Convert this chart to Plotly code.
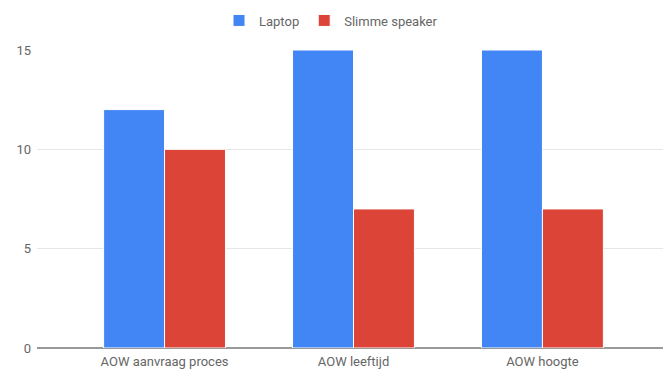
import plotly.graph_objects as go

categories = ["AOW aanvraag proces", "AOW leeftijd", "AOW hoogte"]
laptop = [12, 15, 15]
slimme_speaker = [10, 7, 7]
y_ticks = [0, 5, 10, 15]

FONT = "Roboto, Arial, sans-serif"
TEXT = "#666666"

fig = go.Figure()
fig.add_trace(go.Bar(
    x=categories, y=laptop, name="Laptop",
    marker=dict(color="#4285F4", line=dict(color="white", width=1)),
))
fig.add_trace(go.Bar(
    x=categories, y=slimme_speaker, name="Slimme speaker",
    marker=dict(color="#DB4437", line=dict(color="white", width=1)),
))

fig.update_layout(
    width=663, height=369,
    margin=dict(l=37, r=0, t=50, b=21),
    paper_bgcolor="white", plot_bgcolor="white",
    barmode="group", bargap=0.355, bargroupgap=0.0,
    font=dict(family=FONT, size=13, color=TEXT),
    legend=dict(
        orientation="h", x=(219 - 37) / 626, xanchor="left",
        y=1.099, yanchor="middle",
        font=dict(size=13, color=TEXT),
        bgcolor="rgba(0,0,0,0)",
    ),
    xaxis=dict(
        type="category", range=[-0.675, 2.638],
        showgrid=False, showline=False, zeroline=False,
        ticks="", ticklabelstandoff=4,
        tickfont=dict(size=13, color=TEXT),
    ),
    yaxis=dict(
        range=[0, 15], tickvals=y_ticks,
        showgrid=True, gridcolor="#e6e6e6", gridwidth=1,
        zeroline=True, zerolinecolor="#999999", zerolinewidth=2,
        showline=False, ticks="", ticklabelstandoff=5,
        tickfont=dict(size=13, color=TEXT),
    ),
)

fig.write_html("out.html")
